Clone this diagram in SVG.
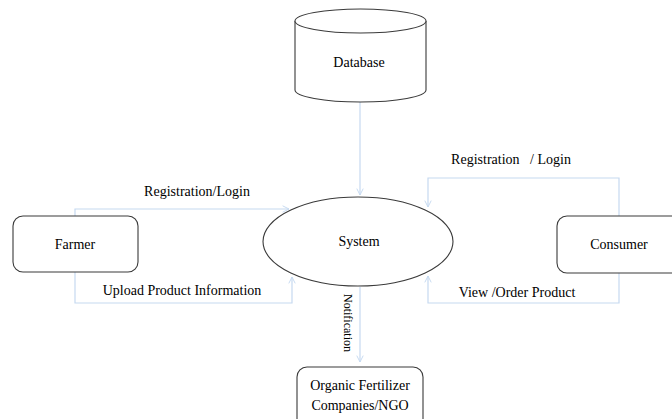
<svg xmlns="http://www.w3.org/2000/svg" width="672" height="419" viewBox="0 0 672 419">
<defs>
<marker id="ah" viewBox="0 0 10 10" refX="9" refY="5" markerWidth="8" markerHeight="8" orient="auto" markerUnits="userSpaceOnUse">
<path d="M1,1 L9,5 L1,9" fill="none" stroke="#c6d9f0" stroke-width="1.2"/>
</marker>
<style>
.n{fill:#fff;stroke:#3a3a3a;stroke-width:1.1}
.t{font-size:14px;fill:#000}
.c{fill:none;stroke:#c6d9f0;stroke-width:1.2}
</style>
</defs>
<rect width="672" height="419" fill="#fff"/>
<g id="connectors" font-family="'Liberation Serif', 'Times New Roman', serif">
<path class="c" d="M360,102 V195" marker-end="url(#ah)"/>
<path class="c" d="M75,216 V209 H289" marker-end="url(#ah)"/>
<path class="c" d="M75,272 V303 H292 V277" marker-end="url(#ah)"/>
<path class="c" d="M619,216 V178 H428 V207" marker-end="url(#ah)"/>
<path class="c" d="M619,273 V303 H428 V276" marker-end="url(#ah)"/>
<path class="c" d="M360,287 V362" marker-end="url(#ah)"/>
<text class="t" x="197" y="196" text-anchor="middle">Registration/Login</text>
<text class="t" x="182" y="295" text-anchor="middle">Upload Product Information</text>
<text class="t" x="511" y="164" text-anchor="middle" xml:space="preserve">Registration   / Login</text>
<text class="t" x="517" y="297" text-anchor="middle">View /Order Product</text>
<text class="t" x="0" y="0" transform="translate(344,323) rotate(90)" text-anchor="middle" style="font-size:12px">Notification</text>
</g>
<g id="database" font-family="'Liberation Serif', 'Times New Roman', serif">
<path class="n" d="M295,21 V90 A65.5,12 0 0 0 426,90 V21"/>
<ellipse class="n" cx="360.5" cy="21" rx="65.5" ry="12"/>
<text class="t" x="359" y="67" text-anchor="middle">Database</text>
</g>
<g id="system" font-family="'Liberation Serif', 'Times New Roman', serif">
<ellipse class="n" cx="358" cy="241.5" rx="95" ry="44.5"/>
<text class="t" x="359" y="246" text-anchor="middle">System</text>
</g>
<g id="farmer" font-family="'Liberation Serif', 'Times New Roman', serif">
<rect class="n" x="13" y="216" width="125" height="56" rx="10"/>
<text class="t" x="75" y="249" text-anchor="middle">Farmer</text>
</g>
<g id="consumer" font-family="'Liberation Serif', 'Times New Roman', serif">
<rect class="n" x="557" y="216" width="125" height="57" rx="10"/>
<text class="t" x="619" y="249" text-anchor="middle">Consumer</text>
</g>
<g id="organic" font-family="'Liberation Serif', 'Times New Roman', serif">
<rect class="n" x="297" y="367" width="126" height="62" rx="10"/>
<text class="t" x="360" y="390" text-anchor="middle">Organic Fertilizer</text>
<text class="t" x="360" y="410" text-anchor="middle">Companies/NGO</text>
</g>
</svg>
